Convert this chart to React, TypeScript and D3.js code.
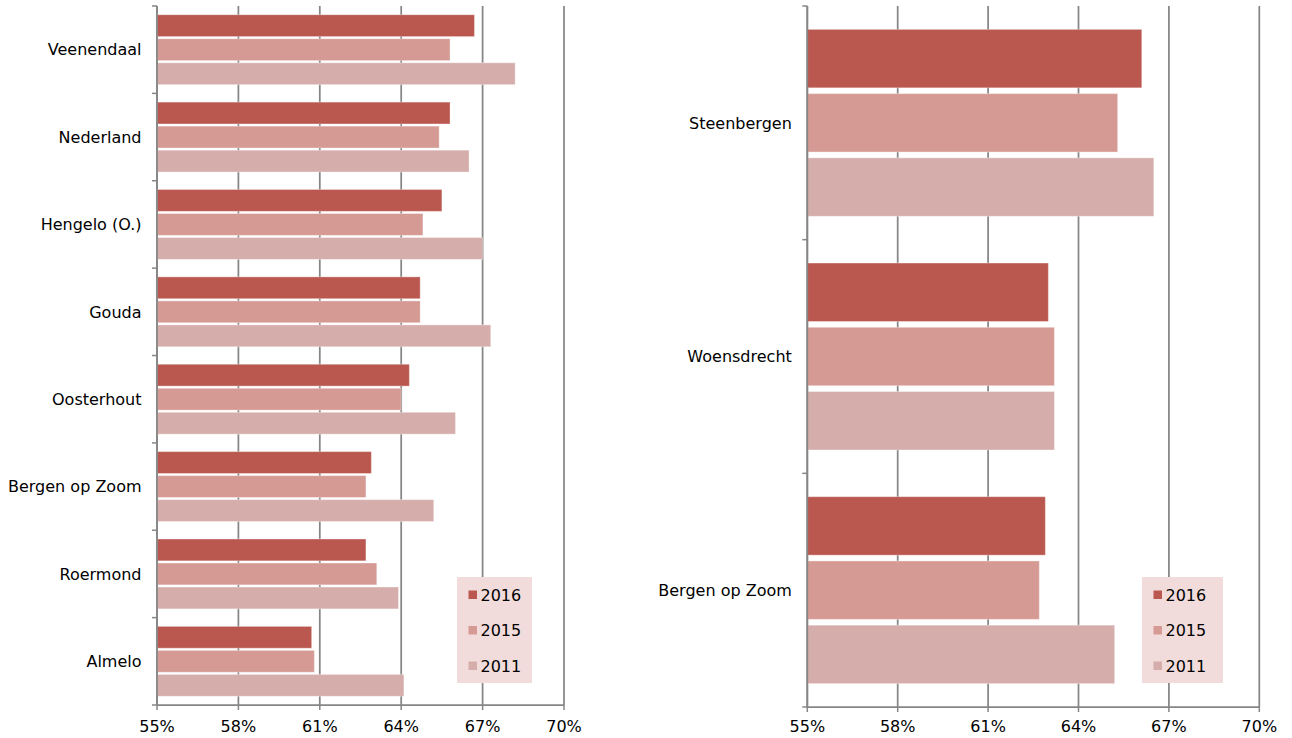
import React from "react";
import * as d3 from "d3";

const seriesKeys = ["2016", "2015", "2011"];
const seriesColors = ["#BA574F", "#D69A94", "#D5ADAB"];

const leftCategories = ["Veenendaal", "Nederland", "Hengelo (O.)", "Gouda", "Oosterhout", "Bergen op Zoom", "Roermond", "Almelo"];
const left2016 = [66.7, 65.8, 65.5, 64.7, 64.3, 62.9, 62.7, 60.7];
const left2015 = [65.8, 65.4, 64.8, 64.7, 64.0, 62.7, 63.1, 60.8];
const left2011 = [68.2, 66.5, 67.0, 67.3, 66.0, 65.2, 63.9, 64.1];

const rightCategories = ["Steenbergen", "Woensdrecht", "Bergen op Zoom"];
const right2016 = [66.1, 63.0, 62.9];
const right2015 = [65.3, 63.2, 62.7];
const right2011 = [66.5, 63.2, 65.2];

const xTicks = [55, 58, 61, 64, 67, 70];
const xDomain = [55, 70];

const FONT = "DejaVu Sans, Verdana, sans-serif";
const GRID = "#868686";
const FS = 16;

type PanelProps = {
  categories: string[];
  series: number[][];
  x0: number;
  x1: number;
  y0: number;
  y1: number;
  legendX: number;
  legendW: number;
};

function Panel({ categories, series, x0, x1, y0, y1, legendX, legendW }: PanelProps) {
  const x = d3.scaleLinear().domain(xDomain).range([x0, x1]);
  const y = d3.scaleBand<string>().domain(categories).range([y0, y1]).padding(0);
  const bw = y.bandwidth();
  const inner = d3
    .scaleBand<string>()
    .domain(seriesKeys)
    .range([bw * 0.1, bw * 0.9])
    .paddingInner(0.09)
    .paddingOuter(0);

  const boundaries = d3.range(categories.length + 1).map((i) => y0 + i * bw);

  const legendY = 577;
  const legendH = 106;
  const itemCenters = [595, 630.5, 666];

  return (
    <g>
      {xTicks.map((t) => (
        <line key={"g" + t} x1={x(t)} x2={x(t)} y1={y0} y2={y1} stroke={GRID} strokeWidth={1.75} />
      ))}
      {categories.map((c, ci) =>
        seriesKeys.map((k, si) => (
          <rect
            key={c + k}
            x={x(xDomain[0])}
            y={(y(c) as number) + (inner(k) as number)}
            width={x(series[si][ci]) - x(xDomain[0])}
            height={inner.bandwidth()}
            fill={seriesColors[si]}
            stroke="#ffffff"
            strokeOpacity={0.35}
            strokeWidth={1}
          />
        ))
      )}
      <line x1={x0} x2={x0} y1={y0} y2={y1} stroke={GRID} strokeWidth={1.75} />
      {boundaries.map((b, i) => (
        <line key={"yt" + i} x1={x0 - 5} x2={x0} y1={b} y2={b} stroke={GRID} strokeWidth={1.5} />
      ))}
      <line x1={x0} x2={x1} y1={y1} y2={y1} stroke={GRID} strokeWidth={1.75} />
      {xTicks.map((t) => (
        <line key={"xt" + t} x1={x(t)} x2={x(t)} y1={y1} y2={y1 + 5} stroke={GRID} strokeWidth={1.5} />
      ))}
      {xTicks.map((t) => (
        <text key={"xl" + t} x={x(t)} y={732} textAnchor="middle" fontFamily={FONT} fontSize={FS} fill="#000">
          {t + "%"}
        </text>
      ))}
      {categories.map((c) => (
        <text
          key={"cl" + c}
          x={x0 - 15.5}
          y={(y(c) as number) + bw / 2 + 5.8}
          textAnchor="end"
          fontFamily={FONT}
          fontSize={FS}
          fill="#000"
        >
          {c}
        </text>
      ))}
      <rect x={legendX} y={legendY} width={legendW} height={legendH} fill="#F2DCDB" />
      {seriesKeys.map((k, i) => (
        <g key={"lg" + k}>
          <rect x={legendX + 11.5} y={itemCenters[i] - 4.5} width={8.5} height={8.5} fill={seriesColors[i]} />
          <text x={legendX + 23.5} y={itemCenters[i] + 5.7} fontFamily={FONT} fontSize={FS} fill="#000">
            {k}
          </text>
        </g>
      ))}
    </g>
  );
}

export default function App() {
  return (
    <svg
      width={1292}
      height={738}
      style={{ position: "absolute", left: 0, top: 0, background: "#fff" }}
    >
      <rect x={0} y={0} width={1292} height={738} fill="#fff" />
      <Panel
        categories={leftCategories}
        series={[left2016, left2015, left2011]}
        x0={157}
        x1={564}
        y0={6}
        y1={705}
        legendX={457}
        legendW={75}
      />
      <Panel
        categories={rightCategories}
        series={[right2016, right2015, right2011]}
        x0={807.3}
        x1={1259.3}
        y0={6}
        y1={707}
        legendX={1142}
        legendW={81}
      />
    </svg>
  );
}
